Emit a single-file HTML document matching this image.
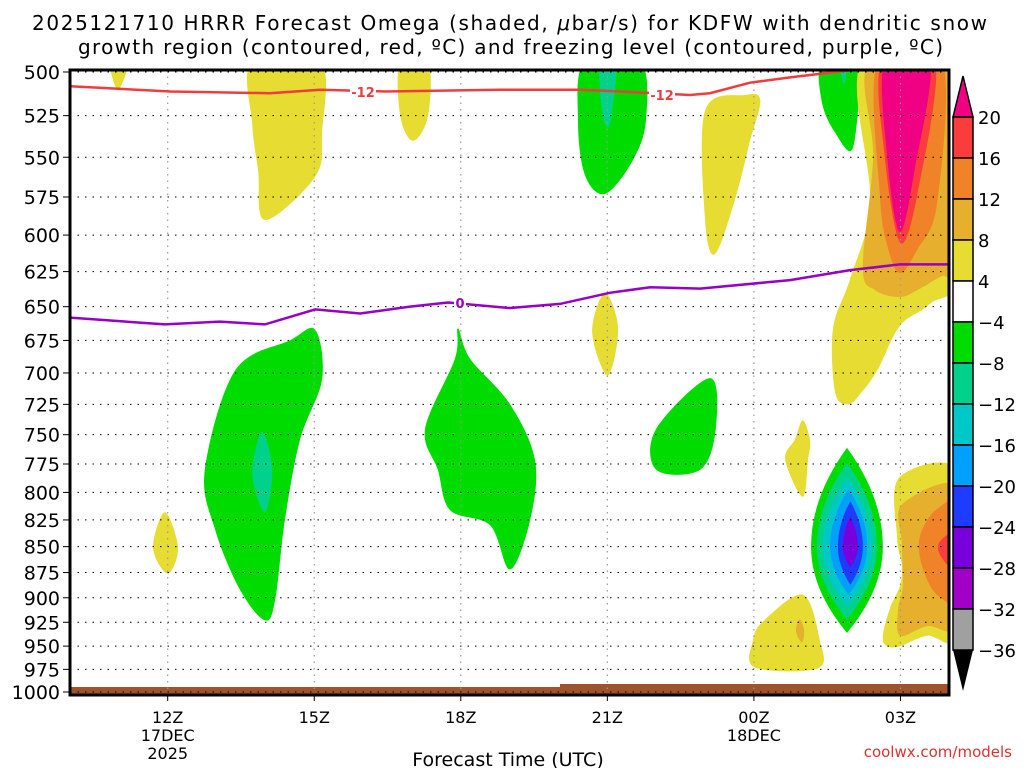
<!DOCTYPE html>
<html><head><meta charset="utf-8">
<style>
body{margin:0;background:#fff;}
svg{display:block;font-family:"DejaVu Sans","Liberation Sans",sans-serif;}
</style></head>
<body>
<svg id="chart" width="1024" height="768" viewBox="0 0 1024 768" xmlns="http://www.w3.org/2000/svg">
<text x="32" y="30" font-size="20" textLength="955" lengthAdjust="spacing">2025121710 HRRR Forecast Omega (shaded, <tspan font-style="italic">μ</tspan>bar/s) for KDFW with dendritic snow</text>
<text x="78" y="54" font-size="20" textLength="865" lengthAdjust="spacing">growth region (contoured, red, ºC) and freezing level (contoured, purple, ºC)</text>
<g id="fills"></g>
<g id="grid"></g>
<g id="lines"></g>
<g id="axes"></g>
<g id="cbar"></g>
<text x="508" y="766" font-size="19" text-anchor="middle">Forecast Time (UTC)</text>
<text x="1012" y="757" font-size="15" text-anchor="end" fill="#e03030">coolwx.com/models</text>
</svg>
<script>
// Data (hours since 10Z 17DEC, pressure hPa)
const pressureTicks=[500,525,550,575,600,625,650,675,700,725,750,775,800,825,850,875,900,925,950,975,1000];
const timeTickHours=[2,5,8,11,14,17];
const timeTickLabels=["12Z","15Z","18Z","21Z","00Z","03Z"];
const cbarLevels=[20,16,12,8,4,-4,-8,-12,-16,-20,-24,-28,-32,-36];
const cbarColors=["#fa3c3c","#f08228","#e6af2d","#e6dc32","#ffffff","#00dc00","#00d28c","#00c8c8","#00a0ff","#1e3cff","#7800dc","#a000c8","#a0a0a0"];
const dgzHours=[0,2.05,4.09,5.12,6.45,8.8,10.44,11.26,12.69,13.1,13.92,14.74,15.97];
const dgzPres=[508,511,512,510,511,510,510,511,513,512,506,503,499];
const frzHours=[0,1.94,3.07,3.99,5.02,5.94,6.96,7.74,9.01,10.03,11.05,11.88,12.9,14.74,15.97,16.99,17.97];
const frzPres=[658,663,661,663,652,655,650,647,651,648,640,636,637,631,624,620,620];
// shaded regions: [color, hours[], pressures[]]
const regions=[
["#e6dc32",[0.82,1.19,0.98],[494,494,510]],
["#e6dc32",[3.73,5.12,5.16,5.02,3.99,3.85,3.73],[494,494,535,562,590,558,530]],
["#e6dc32",[6.76,7.33,7.33,7.02,6.76],[494,494,525,540,525]],
["#00dc00",[10.54,11.67,11.79,11.5,10.95,10.54,10.4],[494,494,528,553,573,561,528]],
["#00d28c",[10.85,11.18,11.1,11.01,10.89],[494,494,522,532,522]],
["#e6dc32",[13,13.82,14.13,13.92,13.61,13.2,13],[522,513,516,540,577,613,590]],
["#00dc00",[15.39,16.11,16.03,15.66,15.39],[494,494,544,535,517]],
["#00d28c",[15.75,15.9,15.85],[494,494,507]],
["#e6dc32",[16.21,18.3,18.3,17.6,16.99,16.54,16.21,15.93,15.66,15.62,15.97,16.38],[494,494,620,648,664,697,715,725,715,666,630,578]],
["#e6af2d",[16.38,18.3,18.3,17.87,17.4,16.99,16.48,16.23,16.44],[494,494,626,628,637,643,638,622,550]],
["#f08228",[16.54,17.85,17.75,17.34,16.99,16.74,16.58],[494,494,579,610,626,608,574]],
["#fa3c3c",[16.62,17.71,17.34,16.99,16.68],[494,494,574,605,550]],
["#f00082",[16.68,17.6,17.3,16.99,16.74],[494,494,556,598,553]],
["#e6dc32",[10.95,11.22,11.01,10.69],[640,666,702,669]],
["#00dc00",[5.02,5.16,4.71,4.4,4.2,3.99,3.48,2.97,2.76,3.38,4.5],[667,705,754,825,902,923,892,834,780,698,675]],
["#00d28c",[3.93,4.14,3.99,3.73],[748,780,818,784]],
["#00dc00",[7.94,8.19,9.01,9.52,9.42,9.01,8.6,7.78,7.53,7.27,7.88],[666,689,725,772,825,872,830,816,780,745,689]],
["#00dc00",[12,13.1,13.22,12.9,12],[745,704,745,780,780]],
["#e6dc32",[1.94,2.21,2.0,1.7],[818,851,876,851]],
["#e6dc32",[15.0,15.15,15.11,15.0,14.64,14.84],[738,755,771,804,771,754]],
["#e6dc32",[15.0,15.35,15.31,14.02,13.98,14.19],[897,944,974,973,944,924]],
["#e6af2d",[14.94,15.03,14.98,14.86],[922,934,946,934]],
["#e6dc32",[16.99,18.3,18.3,17.54,16.99,16.72,16.64,16.79,16.99,17.03,16.93],[786,786,936,939,950,950,939,910,888,868,841]],
["#e6af2d",[17.05,18.3,18.3,17.54,16.99,16.95,17.05,17.03],[810,798,925,929,939,912,888,847]],
["#f08228",[18.3,17.75,17.4,17.44,17.75,18.3],[811,815,840,868,897,902]],
["#fa3c3c",[18.3,17.81,17.85,18.3],[834,845,861,879]]
];
// lens-shaped core (upward motion max near 02Z 850mb)
const lensColors=["#00dc00","#00d28c","#00c8c8","#00a0ff","#1e3cff","#7800dc"];
const lensTop=[761,774,787,797,808,822];
const lensBottom=[936,922,909,897,887,870];
const lensLeft=[15.17,15.29,15.41,15.56,15.72,15.82];
const lensRight=[16.64,16.52,16.42,16.32,16.23,16.13];
const lensMidP=850;

const L=70,R=949,T=70,B=695;
const X=h=>L+h*48.85;
const Y=p=>72+620*Math.log2(p/500);
const NS="http://www.w3.org/2000/svg";
function mk(tag,parent,attrs){const e=document.createElementNS(NS,tag);for(const k in attrs)e.setAttribute(k,attrs[k]);parent.appendChild(e);return e;}
function smooth(pts){const n=pts.length;let d=`M${pts[0][0].toFixed(1)},${pts[0][1].toFixed(1)}`;
 for(let i=0;i<n;i++){const p0=pts[(i-1+n)%n],p1=pts[i],p2=pts[(i+1)%n],p3=pts[(i+2)%n];
  const c1=[p1[0]+(p2[0]-p0[0])/6,p1[1]+(p2[1]-p0[1])/6],c2=[p2[0]-(p3[0]-p1[0])/6,p2[1]-(p3[1]-p1[1])/6];
  d+=` C${c1[0].toFixed(1)},${c1[1].toFixed(1)} ${c2[0].toFixed(1)},${c2[1].toFixed(1)} ${p2[0].toFixed(1)},${p2[1].toFixed(1)}`;}
 return d+'Z';}
const fills=document.getElementById('fills'),grid=document.getElementById('grid'),lines=document.getElementById('lines'),axes=document.getElementById('axes'),cbar=document.getElementById('cbar');
const clip=mk('clipPath',document.getElementById('chart'),{id:'pc'});
mk('rect',clip,{x:L,y:T,width:R-L,height:B-T});
fills.setAttribute('clip-path','url(#pc)');
lines.setAttribute('clip-path','url(#pc)');
regions.forEach((r,i)=>{
 const pts=r[1].map((h,j)=>[X(h),Y(r[2][j])]);
 const e=mk('path',fills,{d:smooth(pts),fill:r[0]});
 
 
});
lensColors.forEach((c,i)=>{
 const xl=X(lensLeft[i]),xr=X(lensRight[i]),cx=(xl+xr)/2,yt=Y(lensTop[i]),yb=Y(lensBottom[i]),ym=Y(lensMidP);
 const d=`M${cx},${yt} Q${xr},${(yt+ym)/2} ${xr},${ym} Q${xr},${(ym+yb)/2} ${cx},${yb} Q${xl},${(ym+yb)/2} ${xl},${ym} Q${xl},${(yt+ym)/2} ${cx},${yt}Z`;
 const e=mk('path',fills,{d:d,fill:c});
 
 
});
// ground
const g1=mk('rect',fills,{x:L,y:687,width:R-L,height:B-687,fill:'#a0522d'});


mk('rect',fills,{x:560,y:684,width:R-560,height:4,fill:'#a0522d'});
// grid
pressureTicks.forEach(p=>{
 mk('line',grid,{x1:L,x2:R,y1:Y(p),y2:Y(p),stroke:'#000','stroke-width':1,'stroke-dasharray':'1.5,6'});
 const t=mk('text',axes,{x:60,y:Y(p)+7,'font-size':19,'text-anchor':'end'});t.textContent=p;
 
 
 mk('line',axes,{x1:63,x2:L,y1:Y(p),y2:Y(p),stroke:'#000','stroke-width':1});
});
timeTickHours.forEach((h,i)=>{
 mk('line',grid,{x1:X(h),x2:X(h),y1:T,y2:B,stroke:'#999','stroke-width':1.2,'stroke-dasharray':'1.5,5'});
 mk('line',axes,{x1:X(h),x2:X(h),y1:B,y2:B+6,stroke:'#000'});
 const t=mk('text',axes,{x:X(h),y:723,'font-size':16,'text-anchor':'middle'});t.textContent=timeTickLabels[i];
 
 
});
[[2,"17DEC",741],[2,"2025",759],[14,"18DEC",741]].forEach(a=>{const t=mk('text',axes,{x:X(a[0]),y:a[2],'font-size':16,'text-anchor':'middle'});t.textContent=a[1];});
mk('rect',axes,{x:L,y:T,width:R-L,height:B-T,fill:'none',stroke:'#000','stroke-width':3});
// contour lines
function poly(hs,ps,col,name){const e=mk('polyline',lines,{points:hs.map((h,j)=>X(h)+','+Y(ps[j])).join(' '),fill:'none',stroke:col,'stroke-width':2.5});
 
 }
poly(dgzHours,dgzPres,'#f03c3c','dgz-minus12-line');
poly(frzHours,frzPres,'#9600c8','freezing-level-line');
function lab(x,y,txt,col){mk('rect',lines,{x:x-13,y:y-7,width:26,height:14,fill:'#fff'});const t=mk('text',lines,{x:x,y:y+5,'font-size':13,'font-weight':'bold','text-anchor':'middle',fill:col});t.textContent=txt;}
lab(363,92,'-12','#f03c3c');lab(662,95,'-12','#f03c3c');
mk('rect',lines,{x:454,y:297,width:12,height:13,fill:'#fff'});
const z=mk('text',lines,{x:460,y:308,'font-size':13,'font-weight':'bold','text-anchor':'middle',fill:'#9600c8'});z.textContent='0';
// colorbar
const cx0=953,cw=20,ct=117,ch=41;
mk('polygon',cbar,{points:`${cx0},${ct} ${cx0+cw},${ct} ${cx0+cw/2},76`,fill:'#f00082',stroke:'#000','stroke-width':1.5});
cbarColors.forEach((c,i)=>{const r=mk('rect',cbar,{x:cx0,y:ct+i*ch,width:cw,height:ch,fill:c,stroke:'#000','stroke-width':1.5});
 
 });
const cb=ct+cbarColors.length*ch;
mk('polygon',cbar,{points:`${cx0},${cb} ${cx0+cw},${cb} ${cx0+cw/2},${cb+41}`,fill:'#000'});
cbarLevels.forEach((v,i)=>{const t=mk('text',cbar,{x:978,y:ct+i*ch+7,'font-size':18});t.textContent=(v<0?'−':'')+Math.abs(v);
 
 });
</script>
</body></html>
